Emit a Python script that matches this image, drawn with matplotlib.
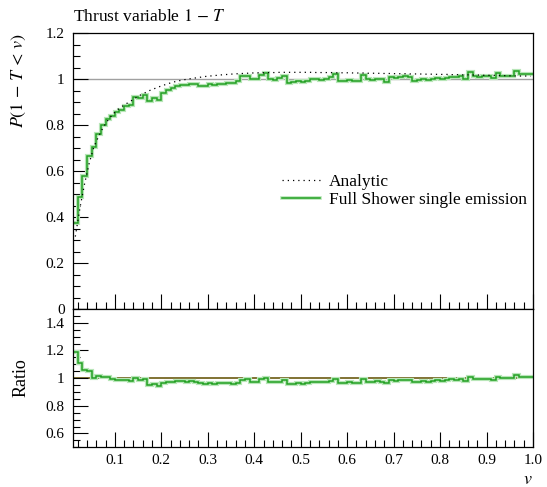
import numpy as np
import matplotlib
matplotlib.use("Agg")
import matplotlib.pyplot as plt
from matplotlib.ticker import MultipleLocator, FixedLocator, FixedFormatter
from matplotlib.lines import Line2D
import matplotlib.patheffects as pe

plt.rcParams['font.family'] = ['Liberation Serif', 'DejaVu Serif']
plt.rcParams['mathtext.fontset'] = 'stix'

# ---------------- data ----------------
bin_edges = np.linspace(0.01, 1.0, 100)          # 99 bins of width 0.01
bin_centers = 0.5 * (bin_edges[:-1] + bin_edges[1:])

analytic = [
    0.315, 0.44, 0.545, 0.635, 0.705, 0.75, 0.79, 0.82, 0.845, 0.865,
    0.88, 0.893, 0.905, 0.918, 0.93, 0.94, 0.95, 0.958, 0.966, 0.973,
    0.98, 0.986, 0.991, 0.995, 0.999, 1.002, 1.005, 1.008, 1.011, 1.013,
    1.015, 1.017, 1.019, 1.02, 1.022, 1.023, 1.024, 1.025, 1.026, 1.027,
    1.027, 1.028, 1.028, 1.028, 1.029, 1.029, 1.029, 1.029, 1.029, 1.029,
    1.029, 1.029, 1.028, 1.028, 1.028, 1.028, 1.027, 1.027, 1.027, 1.027,
    1.026, 1.026, 1.026, 1.025, 1.025, 1.025, 1.024, 1.024, 1.024, 1.023,
    1.023, 1.023, 1.022, 1.022, 1.022, 1.021, 1.021, 1.021, 1.02, 1.02,
    1.02, 1.019, 1.019, 1.018, 1.018, 1.018, 1.017, 1.017, 1.016, 1.016,
    1.016, 1.015, 1.015, 1.014, 1.014, 1.013, 1.013, 1.013, 1.012,
]

shower = [
    0.375, 0.488, 0.578, 0.667, 0.705, 0.761, 0.798, 0.824, 0.837, 0.856,
    0.867, 0.884, 0.887, 0.921, 0.916, 0.931, 0.905, 0.917, 0.908, 0.939,
    0.951, 0.961, 0.969, 0.975, 0.974, 0.980, 0.977, 0.970, 0.971, 0.978,
    0.974, 0.979, 0.980, 0.984, 0.981, 0.990, 1.012, 1.015, 1.000, 1.001,
    1.017, 1.028, 1.002, 0.997, 1.003, 1.014, 0.983, 0.988, 0.993, 0.985,
    0.991, 1.001, 1.002, 0.997, 1.002, 1.008, 1.020, 0.993, 0.991, 0.996,
    0.990, 0.992, 1.016, 1.000, 0.997, 1.002, 0.999, 0.988, 1.007, 1.003,
    1.008, 1.013, 1.010, 0.991, 0.997, 0.998, 0.994, 1.001, 1.005, 1.000,
    1.006, 1.010, 1.008, 1.011, 0.998, 1.030, 1.012, 1.010, 1.013, 1.011,
    1.004, 1.027, 1.015, 1.014, 1.012, 1.033, 1.021, 1.023, 1.020,
]

ratio = np.array(shower) / np.array(analytic)

main_yticks = [0, 0.2, 0.4, 0.6, 0.8, 1.0, 1.2]
main_yticklabels = ["0", "0.2", "0.4", "0.6", "0.8", "1", "1.2"]
ratio_yticks = [0.6, 0.8, 1.0, 1.2, 1.4]
ratio_yticklabels = ["0.6", "0.8", "1", "1.2", "1.4"]
xticks = [0.1, 0.2, 0.3, 0.4, 0.5, 0.6, 0.7, 0.8, 0.9, 1.0]
xticklabels = ["0.1", "0.2", "0.3", "0.4", "0.5", "0.6", "0.7", "0.8", "0.9", "1.0"]

# ---------------- style ----------------
green = '#22a022'
band = '#b8e6b8'
W, H = 547, 487

fig = plt.figure(figsize=(W / 100, H / 100), dpi=100)
ax = fig.add_axes([73 / W, 1 - 309 / H, 460 / W, 276 / H])
axr = fig.add_axes([73 / W, 1 - 447.3 / H, 460 / W, 138.3 / H])

stroke = [pe.Stroke(linewidth=3.0, foreground=band), pe.Normal()]

# main panel
ax.axhline(1.0, color='#a0a0a0', lw=1.0, zorder=1)
ax.plot(bin_centers, analytic, color='black', lw=0.9, linestyle=(0, (1, 3.2)),
        zorder=3)
st = ax.stairs(shower, bin_edges, baseline=None, color=green, lw=1.1, zorder=2)
st.set_path_effects(stroke)

ax.set_xlim(0.01, 1.0)
ax.set_ylim(0, 1.2)
ax.yaxis.set_major_locator(FixedLocator(main_yticks))
ax.yaxis.set_major_formatter(FixedFormatter(main_yticklabels))
ax.yaxis.set_minor_locator(MultipleLocator(0.05))
ax.xaxis.set_major_locator(FixedLocator(xticks))
ax.xaxis.set_minor_locator(MultipleLocator(0.02))
ax.tick_params(axis='x', labelbottom=False)

h_an = Line2D([], [], color='black', lw=0.9, linestyle=(0, (1, 3.2)))
h_sh = Line2D([], [], color=green, lw=1.1,
              path_effects=[pe.Stroke(linewidth=2.6, foreground=band), pe.Normal()])
ax.legend([h_an, h_sh], ['Analytic', 'Full Shower single emission'],
          loc='upper left', bbox_to_anchor=(0.455, 0.49), frameon=False,
          fontsize=12.5, handlelength=2.2, handletextpad=0.5, labelspacing=0.12,
          borderaxespad=0.0, borderpad=0.0)

# ratio panel
axr.axhline(1.0, color='#6b5a10', lw=1.2, zorder=1)
st2 = axr.stairs(ratio, bin_edges, baseline=None, color=green, lw=1.1, zorder=2)
st2.set_path_effects(stroke)
axr.set_xlim(0.01, 1.0)
axr.set_ylim(0.5, 1.5)
axr.yaxis.set_major_locator(FixedLocator(ratio_yticks))
axr.yaxis.set_major_formatter(FixedFormatter(ratio_yticklabels))
axr.yaxis.set_minor_locator(MultipleLocator(0.05))
axr.xaxis.set_major_locator(FixedLocator(xticks))
axr.xaxis.set_major_formatter(FixedFormatter(xticklabels))
axr.xaxis.set_minor_locator(MultipleLocator(0.02))

for a in (ax, axr):
    for s in a.spines.values():
        s.set_linewidth(0.9)
    a.tick_params(which='both', direction='in', top=False, right=False,
                  width=0.8, labelsize=11)
    a.tick_params(which='major', length=10.5)
    a.tick_params(which='minor', length=5)
    a.tick_params(axis='y', pad=6)
    a.tick_params(axis='x', pad=5)

# texts
ax.text(0.0, 1.045, r'Thrust variable $1\,-\,T$', transform=ax.transAxes,
        ha='left', va='baseline', fontsize=12.5)
fig.text(18.5 / W, 1 - 33 / H, r'$P(1\,-\,T\,<\,v)$', rotation=90,
         ha='center', va='top', fontsize=13)
fig.text(21 / W, 1 - 378 / H, 'Ratio', rotation=90,
         ha='center', va='center', fontsize=13)
fig.text(533 / W, 1 - 480 / H, r'$v$', ha='right', va='center', fontsize=13)

fig.savefig('out.png', dpi=100)
